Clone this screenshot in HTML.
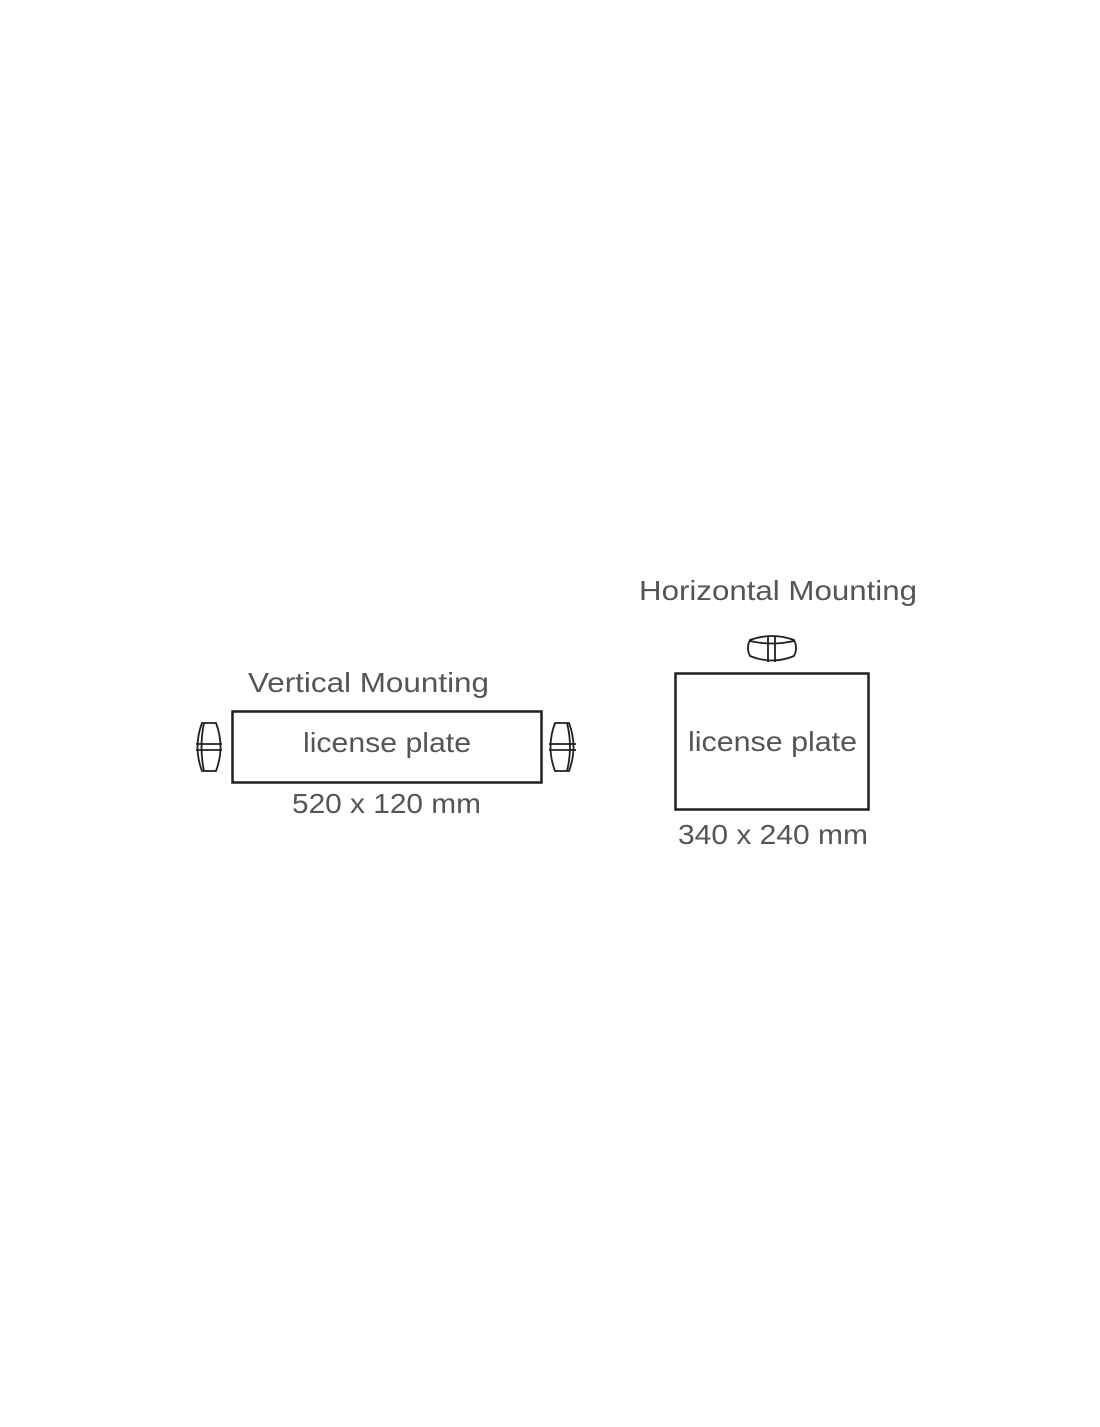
<!DOCTYPE html>
<html><head><style>
html,body{margin:0;padding:0;background:#fff;}
svg text{font-family:"Liberation Sans",sans-serif;fill:#555;}
</style></head><body>
<svg width="1100" height="1422" viewBox="0 0 1100 1422" xmlns="http://www.w3.org/2000/svg">
<g fill="none" stroke="#231f20">
<rect x="232.5" y="711.5" width="309" height="71" stroke-width="2.5"/>
<rect x="675.5" y="673.5" width="193" height="136" stroke-width="2.5"/>
<g stroke-width="1.8">
<path d="M202,723 L216,723 Q225,747 216,771 L202,771 Q193,747 202,723 Z"/>
<path d="M204,723 Q199,747 204,771"/>
<line x1="196" y1="744" x2="222" y2="744"/><line x1="196" y1="750" x2="222" y2="750"/>
</g>
<g stroke-width="1.8">
<path d="M555,723 L569,723 Q578,747 569,771 L555,771 Q546,747 555,723 Z"/>
<path d="M567,723 Q573,747 567,771"/>
<line x1="549" y1="744" x2="576" y2="744"/><line x1="549" y1="750" x2="576" y2="750"/>
</g>
<g stroke-width="1.8">
<path d="M750,640 Q772,632 794,640 Q798,648 794,656 Q772,665 750,656 Q746,648 750,640 Z"/>
<path d="M750,641 Q772,646 794,641"/>
<line x1="768" y1="637" x2="768" y2="662"/><line x1="775" y1="637" x2="775" y2="662"/>
</g>
</g>
<text x="248" y="692" font-size="28" textLength="241" lengthAdjust="spacingAndGlyphs">Vertical Mounting</text>
<text x="303" y="752" font-size="28" textLength="168" lengthAdjust="spacingAndGlyphs">license plate</text>
<text x="292" y="813" font-size="28" textLength="189" lengthAdjust="spacingAndGlyphs">520 x 120 mm</text>
<text x="639" y="600" font-size="28" textLength="278" lengthAdjust="spacingAndGlyphs">Horizontal Mounting</text>
<text x="688" y="751" font-size="28" textLength="169" lengthAdjust="spacingAndGlyphs">license plate</text>
<text x="678" y="844" font-size="28" textLength="190" lengthAdjust="spacingAndGlyphs">340 x 240 mm</text>
</svg>
</body></html>
